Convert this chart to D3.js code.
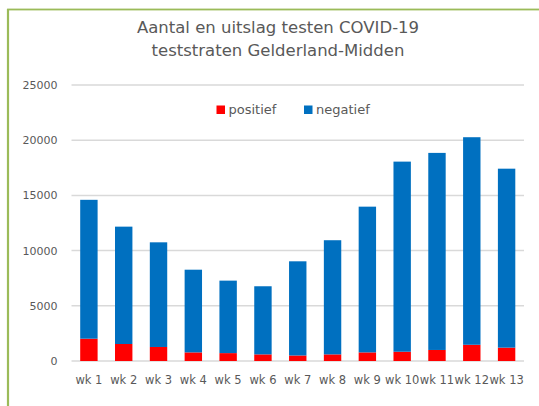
<!DOCTYPE html>
<meta charset="utf-8">
<style>
body { margin: 0; background: #fff; }
text { font-family: "DejaVu Sans", sans-serif; fill: #595959; }
.grid line { stroke: #d9d9d9; stroke-width: 1.5px; }
</style>
<body>
<script src="https://cdnjs.cloudflare.com/ajax/libs/d3/7.8.5/d3.min.js"></script>
<script>

// data
var weeks = ["wk 1", "wk 2", "wk 3", "wk 4", "wk 5", "wk 6", "wk 7", "wk 8", "wk 9", "wk 10", "wk 11", "wk 12", "wk 13"];
var totaal = [14600, 12170, 10750, 8270, 7280, 6770, 9030, 10940, 13980, 18060, 18850, 20270, 17420];
var positief = [2020, 1540, 1270, 780, 715, 600, 500, 600, 780, 840, 1000, 1470, 1210];
var negatief = totaal.map(function(t, i) { return t - positief[i]; });
var yTicks = [0, 5000, 10000, 15000, 20000, 25000];
var seriesNames = ["positief", "negatief"];
var colors = ["#ff0000", "#0070c0"];

var width = 539, height = 406;
var margin = {top: 85, right: 15, bottom: 45, left: 71.5};

var svg = d3.select("body").append("svg")
    .attr("width", width)
    .attr("height", height);

// green frame (only top and left visible in the crop)
svg.append("rect")
    .attr("x", 8)
    .attr("y", 9.5)
    .attr("width", width + 20)
    .attr("height", height + 20)
    .attr("fill", "none")
    .attr("stroke", "#9bbb59")
    .attr("stroke-width", 1.8);
svg.append("line")
    .attr("x1", 8).attr("x2", 8)
    .attr("y1", 9).attr("y2", height)
    .attr("stroke", "#9bbb59")
    .attr("stroke-width", 2.2);

// title
var title = svg.append("text")
    .attr("x", 278)
    .attr("y", 32.5)
    .style("text-anchor", "middle")
    .attr("font-size", 16.5);
title.append("tspan").attr("x", 278).text("Aantal en uitslag testen COVID-19");
title.append("tspan").attr("x", 278).attr("dy", 23.5).text("teststraten Gelderland-Midden");

var x = d3.scaleBand()
    .domain(weeks)
    .range([margin.left, width - margin.right])
    .paddingInner(0.5)
    .paddingOuter(0.25);

var y = d3.scaleLinear()
    .domain([0, 25000])
    .range([361, margin.top]);

// gridlines
svg.append("g")
    .attr("class", "grid")
    .selectAll("line")
    .data(yTicks)
  .enter().append("line")
    .attr("x1", margin.left)
    .attr("x2", width - margin.right)
    .attr("y1", function(d) { return y(d); })
    .attr("y2", function(d) { return y(d); });

// y axis labels
var yAxis = svg.append("g")
    .attr("transform", "translate(" + (margin.left - 10) + ",0)")
    .call(d3.axisLeft(y).tickValues(yTicks).tickSize(0).tickPadding(4).tickFormat(d3.format("d")));
yAxis.select(".domain").remove();
yAxis.selectAll("text").attr("font-size", 11).attr("fill", "#595959").attr("font-family", "DejaVu Sans");

// stacked bars
var table = weeks.map(function(w, i) { return {week: w, positief: positief[i], negatief: negatief[i]}; });
var stack = d3.stack().keys(seriesNames)(table);

svg.append("g")
    .selectAll("g")
    .data(stack)
  .enter().append("g")
    .attr("fill", function(d, i) { return colors[i]; })
    .selectAll("rect")
    .data(function(d) { return d; })
  .enter().append("rect")
    .attr("x", function(d) { return x(d.data.week); })
    .attr("width", x.bandwidth())
    .attr("y", function(d) { return y(d[1]); })
    .attr("height", function(d) { return y(d[0]) - y(d[1]); });

// x axis labels
var xAxis = svg.append("g")
    .attr("transform", "translate(0,361)")
    .call(d3.axisBottom(x).tickSize(0).tickPadding(15));
xAxis.select(".domain").remove();
xAxis.selectAll("text").attr("font-size", 11.5).attr("fill", "#595959").attr("font-family", "DejaVu Sans");

// legend
var legendX = [216.5, 304];
var legend = svg.append("g")
    .selectAll("g")
    .data(seriesNames)
  .enter().append("g")
    .attr("transform", function(d, i) { return "translate(" + legendX[i] + ",105.5)"; });
legend.append("rect")
    .attr("width", 8.5)
    .attr("height", 8.5)
    .attr("fill", function(d, i) { return colors[i]; });
legend.append("text")
    .attr("x", 12)
    .attr("y", 8.5)
    .attr("font-size", 13)
    .text(function(d) { return d; });

</script>
</body>
